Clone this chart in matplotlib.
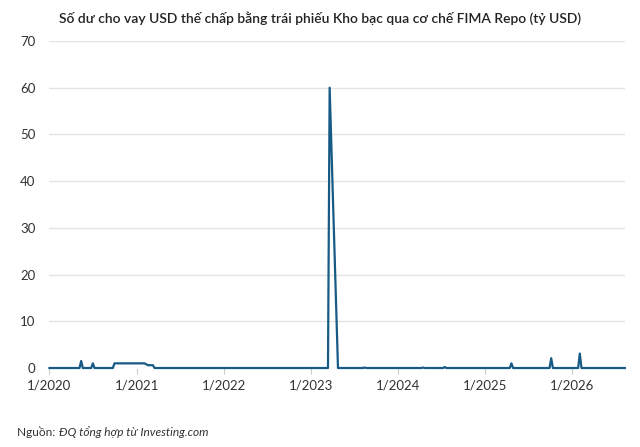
import matplotlib
matplotlib.use("Agg")
import matplotlib.pyplot as plt
import pandas as pd

plt.rcParams['font.family'] = ['Lato', 'DejaVu Sans']

# Key weekly observations (zero elsewhere; line drawn through them)
dates = ["2020-01-01", "2020-05-06", "2020-05-13", "2020-05-20",
         "2020-06-24", "2020-07-01", "2020-07-08",
         "2020-09-23", "2020-09-30", "2021-02-03", "2021-02-17",
         "2021-03-10", "2021-03-17",
         "2023-03-15", "2023-03-22", "2023-04-26",
         "2023-08-09", "2023-08-16", "2023-08-23",
         "2024-04-10", "2024-04-17", "2024-04-24",
         "2024-07-10", "2024-07-17", "2024-07-24",
         "2025-04-16", "2025-04-23", "2025-04-30",
         "2025-09-30", "2025-10-07", "2025-10-14",
         "2026-01-28", "2026-02-04", "2026-02-11",
         "2026-08-12"]
values = [0, 0, 1.5, 0,
          0, 1.0, 0,
          0, 1.0, 1.0, 0.6,
          0.6, 0,
          0, 60.0, 0,
          0, 0.1, 0,
          0, 0.1, 0,
          0, 0.2, 0,
          0, 1.0, 0,
          0, 2.1, 0,
          0, 3.1, 0,
          0]
yticks = [0, 10, 20, 30, 40, 50, 60, 70]
xtick_dates = ["2020-01-01", "2021-01-01", "2022-01-01", "2023-01-01",
               "2024-01-01", "2025-01-01", "2026-01-01"]
xtick_labels = ["1/2020", "1/2021", "1/2022", "1/2023", "1/2024", "1/2025", "1/2026"]
title = "Số dư cho vay USD thế chấp bằng trái phiếu Kho bạc qua cơ chế FIMA Repo (tỷ USD)"

x = pd.to_datetime(dates)

fig = plt.figure(figsize=(6.4, 4.47), dpi=100)
ax = fig.add_axes([0.0773, 0.1767, 0.899, 0.7316])

ax.plot(x, values, color="#175a85", linewidth=1.6, solid_joinstyle="round",
        clip_on=False, zorder=3)

ax.set_ylim(0, 70)
ax.set_xlim(x[0], x[-1])
ax.set_yticks(yticks)
ax.set_yticklabels([str(v) for v in yticks])
ax.set_xticks(pd.to_datetime(xtick_dates))
ax.set_xticklabels(xtick_labels)

ax.grid(axis="y", color="#e3e3e3", linewidth=1.0, zorder=0)
for s in ax.spines.values():
    s.set_visible(False)
ax.tick_params(axis="y", length=0, pad=10, labelsize=9.5, labelcolor="#333333")
ax.tick_params(axis="x", length=4, width=0.8, color="#cccccc", pad=4,
               labelsize=9.5, labelcolor="#333333")

fig.text(0.5, 0.96, title, ha="center", va="center", fontsize=10,
         fontweight="semibold", color="#222222")

t1 = fig.text(0.027, 0.033, "Nguồn: ", ha="left", va="center", fontsize=8.6,
              color="#333333")
ax.annotate("ĐQ tổng hợp từ Investing.com", xy=(1, 0.5), xycoords=t1,
            ha="left", va="center", fontsize=8.6, style="italic", color="#333333",
            annotation_clip=False)

fig.savefig("out.png", dpi=100, facecolor="white")
